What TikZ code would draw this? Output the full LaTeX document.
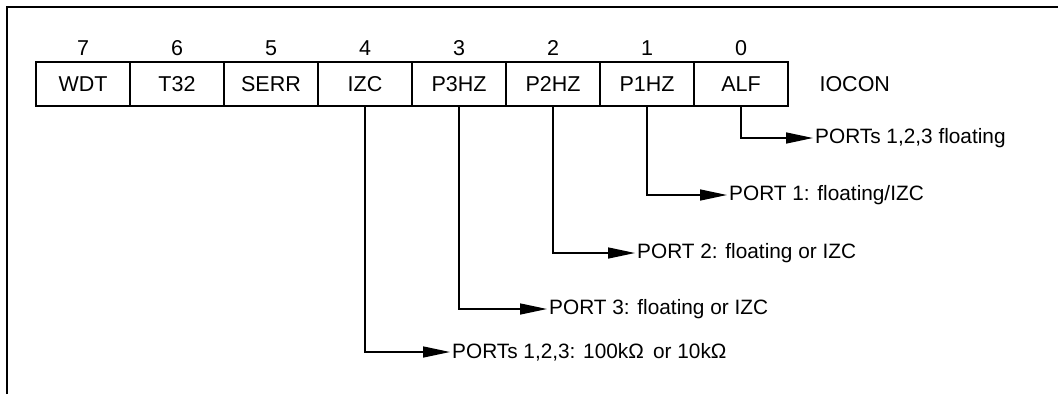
\documentclass[tikz,border=0pt]{standalone}
\usepackage{fontspec}
\setmainfont{Liberation Sans}
\usetikzlibrary{arrows.meta}

\begin{document}
\begin{tikzpicture}[x=1pt, y=-1pt,
    bitbox/.style={shape=rectangle, draw=black, line width=1.7pt, minimum width=94pt, minimum height=44pt, inner sep=0pt, font=\fontsize{21.5}{25}\selectfont},
    bitnum/.style={font=\fontsize{21.5}{25}\selectfont},
    portlbl/.style={anchor=west, inner sep=2pt, font=\fontsize{20.8}{25}\selectfont},
    portarrow/.style={-{Triangle[length=27pt, width=11pt]}, black, line width=1.5pt}]
        \useasboundingbox (0,0) rectangle (1058,394);
        \draw[black, line width=1.5pt] (7,394) -- (7,7) -- (1058,7);
        % register bits
        \node[name=wdt, bitbox] at (83,84) {WDT};
        \node[name=t32, bitbox] at (177,84) {T32};
        \node[name=serr, bitbox] at (271,84) {SERR};
        \node[name=izc, bitbox] at (365,84) {IZC};
        \node[name=pthz, bitbox] at (459,84) {P3HZ};
        \node[name=ptwohz, bitbox] at (553,84) {P2HZ};
        \node[name=ponehz, bitbox] at (647,84) {P1HZ};
        \node[name=alf, bitbox] at (741,84) {ALF};
        \node[name=iocon, anchor=west, bitnum] at (816,84) {IOCON};
        \foreach \b/\x in {7/83, 6/177, 5/271, 4/365, 3/459, 2/553, 1/647, 0/741}
            \node[name=num\b, bitnum] at (\x,48) {\b};
        % port settings
        \node[name=lblalf, portlbl] at (813,138) {PORTs 1,2,3 floating};
        \draw[portarrow] (alf.south) |- (lblalf.west);
        \node[name=lblponehz, portlbl] at (727,195) {PORT 1: floating/IZC};
        \draw[portarrow] (ponehz.south) |- (lblponehz.west);
        \node[name=lblptwohz, portlbl] at (635,253) {PORT 2: floating or IZC};
        \draw[portarrow] (ptwohz.south) |- (lblptwohz.west);
        \node[name=lblpthz, portlbl] at (547,309) {PORT 3: floating or IZC};
        \draw[portarrow] (pthz.south) |- (lblpthz.west);
        \node[name=lblizc, portlbl] at (450,352) {PORTs 1,2,3: 100kΩ\, or 10kΩ};
        \draw[portarrow] (izc.south) |- (lblizc.west);
    \end{tikzpicture}
\end{document}
